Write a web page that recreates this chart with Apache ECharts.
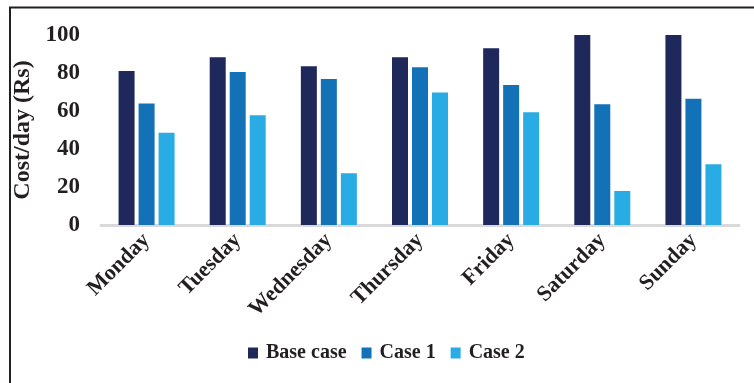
<!DOCTYPE html>
<html>
<head>
<meta charset="utf-8">
<script src="https://cdn.jsdelivr.net/npm/echarts@6/dist/echarts.min.js"></script>
<style>html,body{margin:0;padding:0;background:#fff}#c{width:754px;height:383px}</style>
</head>
<body>
<div id="c"></div>
<script>
const categories = ['Monday','Tuesday','Wednesday','Thursday','Friday','Saturday','Sunday'];
const seriesNames = ['Base case','Case 1','Case 2'];
const baseCase = [81, 88.3, 83.5, 88.3, 93, 100, 100];
const case1 = [64, 80.5, 76.8, 83, 73.7, 63.6, 66.5];
const case2 = [48.6, 57.7, 27.2, 69.7, 59.3, 17.9, 32];
const yTicks = {min: 0, max: 100, interval: 20};

const font = '"Liberation Serif", "Times New Roman", serif';
const colors = ['#1F285B', '#1371B8', '#29ACE3'];
const chart = echarts.init(document.getElementById('c'), null, {renderer: 'canvas'});
chart.setOption({
  animation: false,
  color: colors,
  grid: {left: 101, right: 15, top: 35, bottom: 158, containLabel: false},
  legend: {
    data: seriesNames,
    left: 243, top: 338,
    itemWidth: 10, itemHeight: 11, itemGap: 15,
    icon: 'rect',
    textStyle: {fontFamily: font, fontWeight: 'bold', fontSize: 20, color: '#231f20', padding: [0,0,0,3]}
  },
  xAxis: {
    type: 'category', data: categories,
    axisLine: {lineStyle: {color: '#d9d9d9', width: 3}},
    axisTick: {show: false},
    axisLabel: {rotate: 45, margin: 12, fontFamily: font, fontWeight: 'bold', fontSize: 22, color: '#231f20', interval: 0}
  },
  yAxis: {
    type: 'value', min: yTicks.min, max: yTicks.max, interval: yTicks.interval,
    name: 'Cost/day (Rs)', nameLocation: 'middle', nameGap: 58,
    nameTextStyle: {fontFamily: font, fontWeight: 'bold', fontSize: 24, color: '#231f20'},
    axisLine: {show: false}, axisTick: {show: false}, splitLine: {show: false},
    axisLabel: {margin: 21, fontFamily: font, fontWeight: 'bold', fontSize: 23, color: '#231f20'}
  },
  series: [
    {name: seriesNames[0], type: 'bar', data: baseCase, barWidth: 16, barGap: '25%'},
    {name: seriesNames[1], type: 'bar', data: case1, barWidth: 16, barGap: '25%'},
    {name: seriesNames[2], type: 'bar', data: case2, barWidth: 16, barGap: '25%'}
  ],
  graphic: [
    {type: 'line', shape: {x1: 10, y1: 7, x2: 10, y2: 383}, style: {stroke: '#231f20', lineWidth: 2}},
    {type: 'line', shape: {x1: 9, y1: 7.5, x2: 754, y2: 7.5}, style: {stroke: '#231f20', lineWidth: 2}}
  ]
});
</script>
</body>
</html>
